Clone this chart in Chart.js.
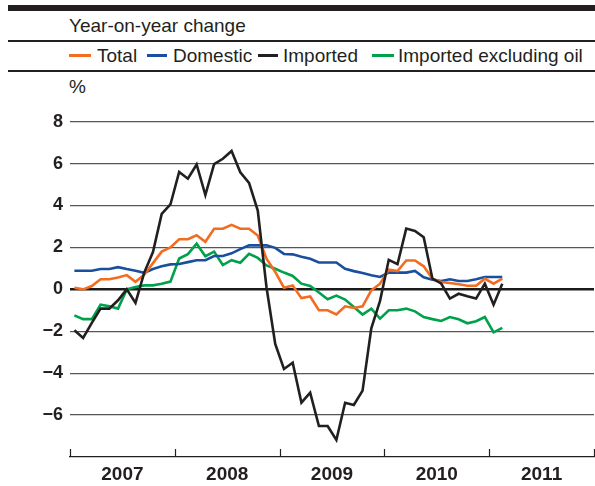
<!DOCTYPE html>
<html>
<head>
<meta charset="utf-8">
<script src="https://cdn.jsdelivr.net/npm/chart.js@4.4.1/dist/chart.umd.min.js"></script>
<style>
  body { margin: 0; width: 595px; height: 486px; background: #fff; position: relative; overflow: hidden;
         font-family: "Liberation Sans", Arial, sans-serif; color: #231f20; }
  .barra { position: absolute; left: 8px; right: 0; top: 5px; height: 6px; background: #231f20; }
  .linha { position: absolute; left: 8px; right: 0; height: 1.5px; background: #231f20; }
  .texto { position: absolute; font-size: 19px; line-height: 19px; white-space: nowrap; }
  .amostra { position: absolute; height: 3px; top: 54px; }
  #grafico { position: absolute; left: 0; top: 100px; }
</style>
</head>
<body>
<div class="barra"></div>
<div class="texto" style="left:69px; top:16px;">Year-on-year change</div>
<div class="linha" style="top:40px;"></div>

<div class="amostra" style="left:69px; width:22px; background:#f26d21;"></div>
<div class="texto" style="left:97px; top:46px;">Total</div>
<div class="amostra" style="left:147px; width:20px; background:#1a4f9f;"></div>
<div class="texto" style="left:173px; top:46px;">Domestic</div>
<div class="amostra" style="left:258px; width:20px; background:#231f20;"></div>
<div class="texto" style="left:283px; top:46px;">Imported</div>
<div class="amostra" style="left:372px; width:22px; background:#00a14b;"></div>
<div class="texto" style="left:398px; top:46px;">Imported excluding oil</div>
<div class="linha" style="top:70px;"></div>

<div class="texto" style="left:69px; top:77px;">%</div>

<canvas id="grafico" width="595" height="386"></canvas>

<script>
// Monthly values, Jan 2007 to Feb 2011
const total = [0.08, 0.0, 0.16, 0.48, 0.48, 0.57, 0.68, 0.36, 0.7, 1.25, 1.8, 2.0,
  2.39, 2.39, 2.58, 2.27, 2.89, 2.89, 3.08, 2.89, 2.89, 2.57, 1.46, 0.83,
  0.08, 0.18, -0.42, -0.34, -1.0, -1.0, -1.2, -0.81, -0.89, -0.81, -0.05, 0.27,
  0.94, 0.87, 1.38, 1.38, 1.1, 0.51, 0.35, 0.3, 0.24, 0.17, 0.17, 0.51,
  0.27, 0.51];
const domestic = [0.89, 0.89, 0.89, 0.97, 0.97, 1.06, 0.97, 0.89, 0.79, 0.97, 1.1, 1.19,
  1.21, 1.3, 1.39, 1.39, 1.59, 1.59, 1.72, 1.92, 2.1, 2.1, 2.1, 1.98,
  1.69, 1.67, 1.56, 1.46, 1.28, 1.28, 1.28, 0.98, 0.87, 0.78, 0.67, 0.59,
  0.8, 0.8, 0.8, 0.88, 0.58, 0.46, 0.4, 0.48, 0.4, 0.4, 0.48, 0.59,
  0.59, 0.59];
const imported = [-1.95, -2.32, -1.6, -0.92, -0.92, -0.52, 0.0, -0.65, 0.8, 1.78, 3.6, 4.05,
  5.6, 5.28, 5.96, 4.5, 5.98, 6.23, 6.6, 5.59, 5.08, 3.76, 0.1, -2.6,
  -3.8, -3.5, -5.41, -4.93, -6.52, -6.52, -7.19, -5.41, -5.52, -4.83, -1.86, -0.55,
  1.41, 1.2, 2.9, 2.79, 2.49, 0.51, 0.28, -0.44, -0.21, -0.33, -0.44, 0.27,
  -0.73, 0.27];
const importedExOil = [-1.24, -1.42, -1.42, -0.73, -0.81, -0.92, 0.0, 0.11, 0.19, 0.19, 0.27, 0.37,
  1.47, 1.68, 2.18, 1.58, 1.8, 1.16, 1.39, 1.27, 1.7, 1.5, 1.14, 0.98,
  0.8, 0.64, 0.27, 0.16, -0.15, -0.47, -0.3, -0.49, -0.84, -1.2, -0.92, -1.4,
  -1.0, -1.0, -0.92, -1.05, -1.32, -1.42, -1.51, -1.32, -1.43, -1.62, -1.52, -1.32,
  -2.05, -1.84];
const anos = ['2007', '2008', '2009', '2010', '2011'];
const yTicks = [8, 6, 4, 2, 0, -2, -4, -6];

const corTexto = '#231f20';

// month index i sits in the middle of its month
function pontos(valores) {
  return valores.map((v, i) => ({ x: i + 0.5, y: v }));
}

function serie(label, valores, cor) {
  return {
    label: label,
    data: pontos(valores),
    borderColor: cor,
    backgroundColor: cor,
    borderWidth: 2.6,
    pointRadius: 0,
    tension: 0,
    fill: false
  };
}

// small upward marks at year boundaries
const marcasAnos = {
  id: 'marcasAnos',
  afterDraw(chart) {
    const ctx = chart.ctx;
    const xs = chart.scales.x;
    const fundo = chart.chartArea.bottom;
    ctx.save();
    ctx.strokeStyle = corTexto;
    ctx.lineWidth = 1.2;
    for (let i = 0; i <= anos.length; i++) {
      const x = Math.round(xs.getPixelForValue(i * 12)) + 0.5;
      ctx.beginPath();
      ctx.moveTo(x, fundo - 8);
      ctx.lineTo(x, fundo);
      ctx.stroke();
    }
    ctx.restore();
  }
};

const ctx = document.getElementById('grafico').getContext('2d');
new Chart(ctx, {
  type: 'line',
  data: {
    datasets: [
      serie('Imported', imported, '#231f20'),
      serie('Total', total, '#f26d21'),
      serie('Domestic', domestic, '#1a4f9f'),
      serie('Imported excluding oil', importedExOil, '#00a14b')
    ]
  },
  options: {
    responsive: false,
    animation: false,
    devicePixelRatio: 1,
    layout: { padding: { top: 21.7, right: 1, left: 0, bottom: 0 } },
    plugins: { legend: { display: false }, tooltip: { enabled: false } },
    scales: {
      x: {
        type: 'linear',
        min: 0,
        max: anos.length * 12,
        afterBuildTicks: scale => {
          scale.ticks = anos.map((a, i) => ({ value: i * 12 + 6 }));
        },
        afterFit: scale => { scale.height = 29; },
        grid: { display: false, drawTicks: false },
        border: { display: true, color: corTexto, width: 1.2 },
        ticks: {
          autoSkip: false,
          maxRotation: 0,
          padding: 6,
          color: corTexto,
          font: { family: 'Liberation Sans', size: 19, weight: 'bold' },
          callback: value => anos[(value - 6) / 12]
        }
      },
      y: {
        min: -8,
        max: 8,
        afterBuildTicks: scale => {
          scale.ticks = yTicks.map(v => ({ value: v }));
        },
        afterFit: scale => { scale.width = 70; },
        border: { display: false },
        grid: {
          drawTicks: false,
          color: c => c.tick.value === 0 ? '#1a1a1a' : '#555555',
          lineWidth: c => c.tick.value === 0 ? 2.6 : 1.2
        },
        ticks: {
          padding: 7,
          color: corTexto,
          font: { family: 'Liberation Sans', size: 18, weight: 'bold' },
          callback: v => v < 0 ? '\u2212' + Math.abs(v) : String(v)
        }
      }
    }
  },
  plugins: [marcasAnos]
});
</script>
</body>
</html>
